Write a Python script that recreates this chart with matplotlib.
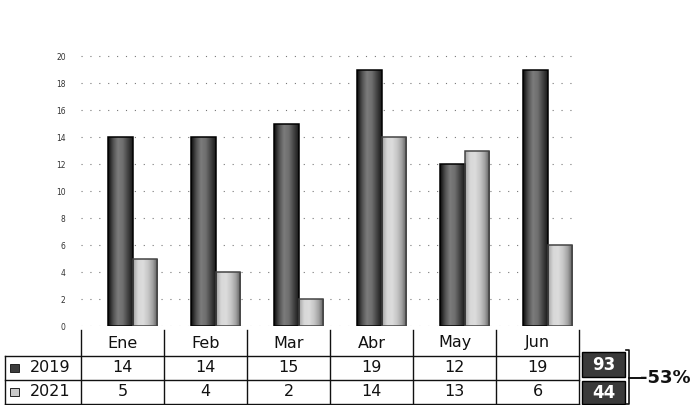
import numpy as np
import matplotlib
matplotlib.use("Agg")
import matplotlib.pyplot as plt
from matplotlib.colors import LinearSegmentedColormap
from matplotlib.lines import Line2D
from matplotlib.patches import Rectangle
from matplotlib.transforms import Affine2D, blended_transform_factory

months = ["Ene", "Feb", "Mar", "Abr", "May", "Jun"]
series_names = ["2019", "2021"]
values_2019 = [14, 14, 15, 19, 12, 19]
values_2021 = [5, 4, 2, 14, 13, 6]
y_ticks = [0, 2, 4, 6, 8, 10, 12, 14, 16, 18, 20]

W, H = 697, 405
fig = plt.figure(figsize=(W / 100, H / 100), dpi=100)
# pixel coordinates measured from the top-left corner of the figure
px = Affine2D().scale(1 / W, -1 / H).translate(0, 1) + fig.transFigure

ax = fig.add_axes([81 / W, 1 - 326 / H, 498 / W, 286 / H])
x = np.arange(len(months))

dark_cmap = LinearSegmentedColormap.from_list(
    "dark", ["#0c0c0c", "#505050", "#7c7c7c", "#6e6e6e", "#444444", "#1a1a1a"])
light_cmap = LinearSegmentedColormap.from_list(
    "light", ["#a4a4a4", "#d8d8d8", "#dcdcdc", "#c8c8c8", "#a2a2a2", "#5a5a5a"])


def cylinder_bars(xs, heights, width, cmap, edge):
    bars = ax.bar(xs, heights, width, color="none", edgecolor=edge,
                  linewidth=1.1, zorder=3)
    grad = np.linspace(0, 1, 64).reshape(1, -1)
    for b in bars:
        x0, w, h = b.get_x(), b.get_width(), b.get_height()
        im = ax.imshow(grad, cmap=cmap, extent=[x0, x0 + w, 0, h],
                       aspect="auto", interpolation="bilinear", zorder=2)
        im.set_clip_path(b)
    return bars


cylinder_bars(x - 0.02, values_2019, 0.30, dark_cmap, "#000000")
cylinder_bars(x + 0.27, values_2021, 0.29, light_cmap, "#444444")

ax.set_xlim(-0.5, len(months) - 0.5)
ax.set_ylim(0, 21.2)
ax.set_yticks(y_ticks)
ax.set_xticks([])
ax.yaxis.grid(True, linestyle=(0, (1, 7)), color="#777777", linewidth=0.8)
ax.set_axisbelow(True)
ax.tick_params(axis="y", length=0, pad=11, labelsize=5.5, labelcolor="#333333")
for s in ax.spines.values():
    s.set_visible(False)

# data table under the bars
col_tr = blended_transform_factory(ax.transData, px)
line_kw = dict(color="#111111", linewidth=1.0)
edges = np.arange(len(months) + 1) - 0.5
for e in edges:
    fig.add_artist(Line2D([e, e], [330, 404], transform=col_tr, **line_kw))
for yy in (356, 380, 404):
    fig.add_artist(Line2D([5, 579], [yy, yy], transform=px, **line_kw))
fig.add_artist(Line2D([5, 5], [356, 404], transform=px, **line_kw))

txt_kw = dict(fontsize=11.5, ha="center", va="center", color="#111111")
for i, m in enumerate(months):
    fig.text(i, 343, m, transform=col_tr, **txt_kw)
    fig.text(i, 368, str(values_2019[i]), transform=col_tr, **txt_kw)
    fig.text(i, 392, str(values_2021[i]), transform=col_tr, **txt_kw)

row_y = [368, 392]
key_colors = ["#3c3c3c", "#c8c8c8"]
for yy, name, c in zip(row_y, series_names, key_colors):
    fig.add_artist(Rectangle((10, yy + 4), 9, -8, transform=px,
                             facecolor=c, edgecolor="#222222", linewidth=0.7))
    fig.text(30, yy, name, transform=px, fontsize=11.5, ha="left",
             va="center", color="#111111")

# yearly totals and change between them
total_2019 = sum(values_2019)
total_2021 = sum(values_2021)
change = (total_2021 - total_2019) / total_2019 * 100
for (y0, y1), tot in zip([(352, 377), (381, 404)], [total_2019, total_2021]):
    fig.add_artist(Rectangle((582, y1), 43, y0 - y1, transform=px,
                             facecolor="#3a3a3a", edgecolor="#000000",
                             linewidth=1.0))
    fig.text(603.5, (y0 + y1) / 2, str(tot), transform=px, fontsize=12,
             fontweight="bold", ha="center", va="center", color="white")
fig.add_artist(Line2D([626, 629, 629, 626], [350, 350, 404, 404],
                      transform=px, color="#111111", linewidth=1.2))
fig.add_artist(Line2D([629, 641], [378, 378], transform=px,
                      color="#111111", linewidth=1.4))
fig.text(640, 378, f"{change:.0f}%", transform=px, fontsize=13,
         fontweight="bold", ha="left", va="center", color="#111111")

fig.savefig("out.png", dpi=100)
